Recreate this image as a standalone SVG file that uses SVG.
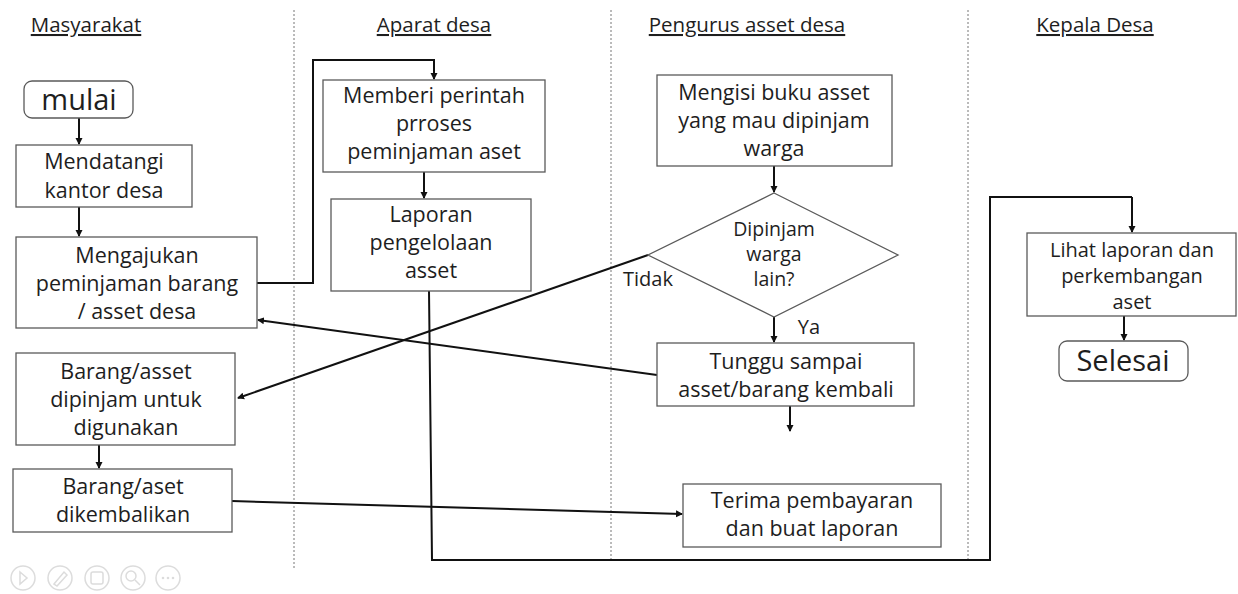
<svg xmlns="http://www.w3.org/2000/svg" width="1238" height="594" viewBox="0 0 1238 594">
<style>
text{font-family:"Open Sans","Lato","Liberation Sans",sans-serif;fill:#1e1e1e;text-anchor:middle}
.t{font-size:21.5px}
.h{font-size:20.5px;text-decoration:underline}
.big{font-size:29px}
.sm{font-size:19.5px}
.lh{font-size:20px}
.lb{font-size:20px}
.box{fill:#fff;stroke:#5a5a5a;stroke-width:1.3}
.div{stroke:#777;stroke-width:1;stroke-dasharray:2 2;fill:none}
.c{stroke:#111;stroke-width:2;fill:none}
.ca{stroke:#111;stroke-width:2;fill:none;marker-end:url(#ah)}
.ic{fill:none;stroke:#dcdcdc;stroke-width:1.5}
</style>
<defs>
<marker id="ah" markerWidth="8" markerHeight="8" refX="6" refY="4" orient="auto" markerUnits="userSpaceOnUse"><path d="M0,0.5 L7,4 L0,7.5 Z" fill="#111"/></marker>
</defs>
<rect width="1238" height="594" fill="#fff"/>
<g id="lanes">
<line class="div" x1="294" y1="10" x2="294" y2="568"/>
<line class="div" x1="611" y1="10" x2="611" y2="560"/>
<line class="div" x1="968" y1="10" x2="968" y2="560"/>
<text class="h" x="86" y="32">Masyarakat</text>
<text class="h" x="434" y="32">Aparat desa</text>
<text class="h" x="747" y="32">Pengurus asset desa</text>
<text class="h" x="1095" y="32">Kepala Desa</text>
</g>
<g id="connectors">
<line class="ca" x1="79" y1="118" x2="79" y2="144"/>
<line class="ca" x1="79" y1="207" x2="79" y2="236"/>
<polyline class="ca" points="257,283 313,283 313,60 434,60 434,79"/>
<line class="ca" x1="424" y1="172" x2="424" y2="198"/>
<polyline class="c" points="429,291 432,560 990,560 990,197 1132,197"/>
<line class="ca" x1="1132" y1="197" x2="1132" y2="232"/>
<line class="ca" x1="774" y1="166" x2="774" y2="192"/>
<line class="ca" x1="648" y1="255" x2="238" y2="398"/>
<line class="ca" x1="774" y1="317" x2="774" y2="342"/>
<line class="ca" x1="657" y1="375" x2="258" y2="320"/>
<line class="ca" x1="790" y1="406" x2="790" y2="431"/>
<line class="ca" x1="99" y1="445" x2="99" y2="468"/>
<line class="ca" x1="232" y1="501" x2="682" y2="514"/>
<line class="ca" x1="1124" y1="316" x2="1124" y2="340"/>
<text class="lb" x="648" y="286">Tidak</text>
<text class="lb" x="809" y="334">Ya</text>
</g>
<g id="mulai">
<rect class="box" x="24" y="81" width="109" height="37" rx="8"/>
<text class="big" x="79" y="110">mulai</text>
</g>
<g id="mendatangi">
<rect class="box" x="16" y="145" width="176" height="62"/>
<text class="t" x="104" y="169">Mendatangi</text>
<text class="t" x="104" y="198">kantor desa</text>
</g>
<g id="mengajukan">
<rect class="box" x="16" y="237" width="241" height="91"/>
<text class="t" x="137" y="263">Mengajukan</text>
<text class="t" x="137" y="291">peminjaman barang</text>
<text class="t" x="137" y="319">/ asset desa</text>
</g>
<g id="memberi">
<rect class="box" x="323" y="80" width="222" height="92"/>
<text class="t" x="434" y="103">Memberi perintah</text>
<text class="t" x="434" y="131">prroses</text>
<text class="t" x="434" y="159">peminjaman aset</text>
</g>
<g id="laporan">
<rect class="box" x="331" y="199" width="200" height="92"/>
<text class="t" x="431" y="222">Laporan</text>
<text class="t" x="431" y="250">pengelolaan</text>
<text class="t" x="431" y="278">asset</text>
</g>
<g id="mengisi">
<rect class="box" x="657" y="75" width="235" height="91"/>
<text class="t" x="774" y="100">Mengisi buku asset</text>
<text class="t" x="774" y="128">yang mau dipinjam</text>
<text class="t" x="774" y="156">warga</text>
</g>
<g id="keputusan">
<polygon class="box" points="774,193 898,255 774,317 648,255"/>
<text class="sm" x="774" y="236">Dipinjam</text>
<text class="sm" x="774" y="261">warga</text>
<text class="sm" x="774" y="286">lain?</text>
</g>
<g id="tunggu">
<rect class="box" x="657" y="343" width="257" height="63"/>
<text class="t" x="786" y="369">Tunggu sampai</text>
<text class="t" x="786" y="397">asset/barang kembali</text>
</g>
<g id="dipinjam">
<rect class="box" x="16" y="353" width="219" height="92"/>
<text class="t" x="126" y="379">Barang/asset</text>
<text class="t" x="126" y="407">dipinjam untuk</text>
<text class="t" x="126" y="435">digunakan</text>
</g>
<g id="dikembalikan">
<rect class="box" x="13" y="469" width="219" height="63"/>
<text class="t" x="123" y="494">Barang/aset</text>
<text class="t" x="123" y="522">dikembalikan</text>
</g>
<g id="terima">
<rect class="box" x="683" y="484" width="258" height="63"/>
<text class="t" x="812" y="508">Terima pembayaran</text>
<text class="t" x="812" y="536">dan buat laporan</text>
</g>
<g id="lihat">
<rect class="box" x="1027" y="233" width="209" height="83"/>
<text class="lh" x="1132" y="257">Lihat laporan dan</text>
<text class="lh" x="1132" y="283">perkembangan</text>
<text class="lh" x="1132" y="309">aset</text>
</g>
<g id="selesai">
<rect class="box" x="1059" y="341" width="129" height="40" rx="8"/>
<text class="big" x="1123" y="371">Selesai</text>
</g>
<g id="controls">
<circle class="ic" cx="23" cy="578" r="12"/>
<path class="ic" d="M20,572 L27,578 L20,584 Z"/>
<circle class="ic" cx="60" cy="578" r="12"/>
<path class="ic" d="M54,584 L64,572 L67,575 L57,586 Z"/>
<circle class="ic" cx="97" cy="578" r="12"/>
<rect class="ic" x="91" y="572" width="12" height="12" rx="2"/>
<circle class="ic" cx="133" cy="578" r="12"/>
<circle class="ic" cx="131" cy="576" r="5"/>
<line class="ic" x1="135" y1="580" x2="140" y2="585"/>
<circle class="ic" cx="168" cy="578" r="12"/>
<circle cx="163" cy="578" r="1.3" fill="#dcdcdc"/>
<circle cx="168" cy="578" r="1.3" fill="#dcdcdc"/>
<circle cx="173" cy="578" r="1.3" fill="#dcdcdc"/>
</g>
</svg>
